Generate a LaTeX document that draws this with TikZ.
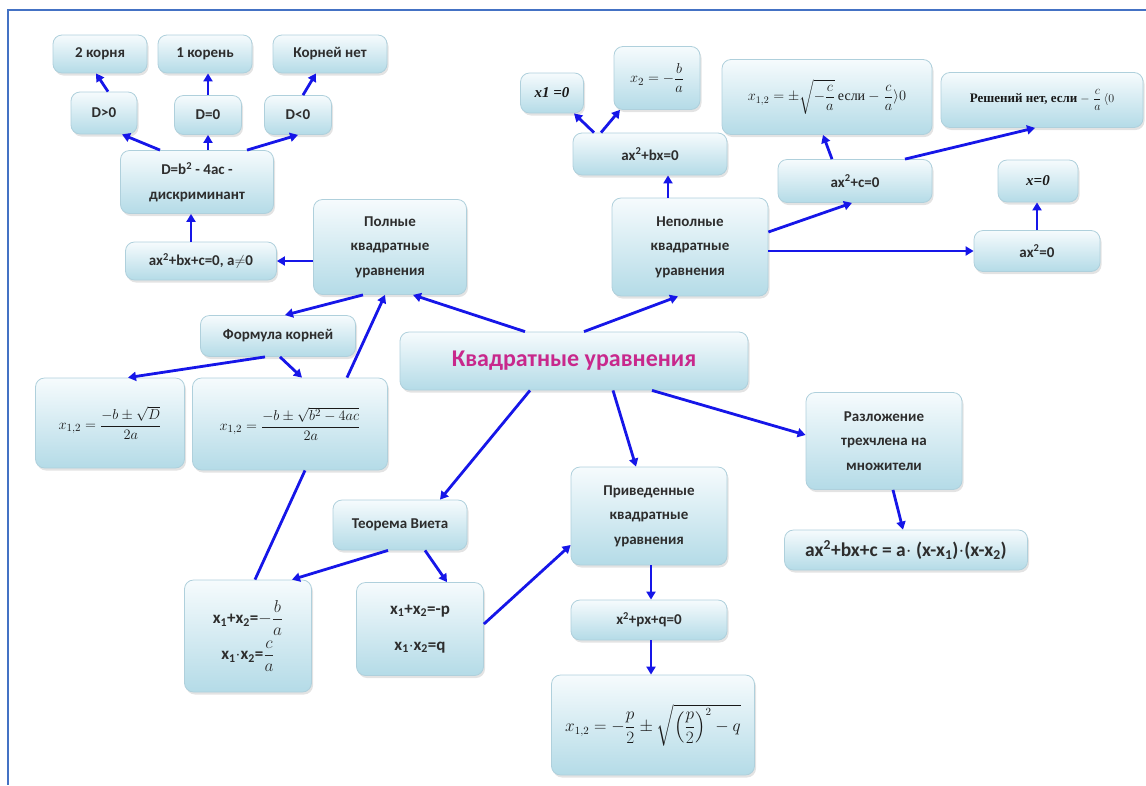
\documentclass[tikz,border=0pt]{standalone}
\usepackage{amsmath}
\usepackage{fontspec}
\setmainfont{Carlito}
\newfontfamily\tnr{Liberation Serif}
\usetikzlibrary{shadows,arrows.meta,calc}
\definecolor{boxblue}{RGB}{180,219,231}
\definecolor{boxtop}{RGB}{246,251,253}
\definecolor{boxline}{RGB}{175,208,220}
\definecolor{arr}{RGB}{22,22,232}
\definecolor{framec}{RGB}{68,114,196}
\definecolor{txt}{RGB}{45,45,45}
\definecolor{mtxt}{RGB}{25,25,25}
\definecolor{titlec}{RGB}{200,40,140}
\tikzset{
 box/.style={rounded corners=9pt, draw=boxline, line width=0.8pt, top color=boxtop, bottom color=boxblue,
   drop shadow={opacity=0.22, shadow xshift=1.5pt, shadow yshift=-2.5pt},
   text=txt, align=center, inner sep=2pt, font=\bfseries\fontsize{15}{24.5}\selectfont},
 mbox/.style={box, text=mtxt, font=\fontsize{15}{20}\selectfont},
 con/.style={draw=arr, line width=2.8pt, -{Triangle[length=8pt,width=9pt]}},
 plainline/.style={draw=arr, line width=2.8pt},
}
\begin{document}
\begin{tikzpicture}[x=1pt,y=-1pt]
\useasboundingbox (0,0) rectangle (1146,785);
\draw[framec, line width=1.5pt] (1146,10) -- (8,10) -- (8,785);

% discriminant branch
\node[box, minimum width=94pt, minimum height=38pt] (n2k) at (100,54) {2 корня};
\node[box, minimum width=94pt, minimum height=38pt] (n1k) at (205,54) {1 корень};
\node[box, minimum width=114pt, minimum height=38pt] (nnet) at (330,54) {Корней нет};
\node[box, minimum width=66pt, minimum height=42pt] (dpos) at (104,113) {D>0};
\node[box, minimum width=67pt, minimum height=39pt] (dzero) at (208,115) {D=0};
\node[box, minimum width=67pt, minimum height=39pt] (dneg) at (298,115) {D<0};
\node[box, minimum width=153pt, minimum height=63pt] (disc) at (197,182) {D=b$^{\mathbf 2}$ - 4ac -\\дискриминант};
\node[box, minimum width=151pt, minimum height=38pt] (gen) at (201,261) {ax$^{\mathbf 2}$+bx+c=0, a$\neq$0};
\node[box, minimum width=153pt, minimum height=95pt] (full) at (390,247) {Полные\\квадратные\\уравнения};
\node[box, minimum width=155pt, minimum height=41pt] (formula) at (278,336) {Формула корней};
\node[mbox, minimum width=149pt, minimum height=90pt] (x12d) at (110,423) {$x_{1,2}=\dfrac{-b\pm\sqrt{D}}{2a}$};
\node[mbox, minimum width=195pt, minimum height=92pt] (x12f) at (290,424) {$x_{1,2}=\dfrac{-b\pm\sqrt{b^2-4ac}}{2a}$};

% main
\node[box, minimum width=348pt, minimum height=58pt, text=titlec, font=\bfseries\fontsize{24}{28}\selectfont] (main) at (574,361) {Квадратные уравнения};

% incomplete branch
\node[box, minimum width=156pt, minimum height=98pt] (inc) at (690,247) {Неполные\\квадратные\\уравнения};
\node[box, minimum width=63pt, minimum height=40pt, text=mtxt, font=\tnr\bfseries\itshape\fontsize{15}{18}\selectfont] (x1z) at (552,93) {x1 =0};
\node[mbox, minimum width=86pt, minimum height=63pt] (x2) at (657,78) {$x_2=-\dfrac{b}{a}$};
\node[box, minimum width=154pt, minimum height=42pt] (bx) at (650,154) {ax$^{\mathbf 2}$+bx=0};
\node[mbox, minimum width=210pt, minimum height=75pt, font=\fontsize{14}{18}\selectfont] (cpos) at (827,97) {$x_{1,2}=\pm\sqrt{-\dfrac{c}{a}}$ {\tnr если} $-\;\dfrac{c}{a}\rangle 0$};
\node[mbox, minimum width=202pt, minimum height=55pt, font=\fontsize{13}{16}\selectfont] (cneg) at (1042,100) {{\tnr\bfseries Решений нет, если} $-\;\dfrac{c}{a}\,\langle 0$};
\node[box, minimum width=154pt, minimum height=43pt] (cx) at (855,181) {ax$^{\mathbf 2}$+c=0};
\node[box, minimum width=80pt, minimum height=42pt, text=mtxt, font=\tnr\bfseries\itshape\fontsize{15}{18}\selectfont] (xz) at (1038,181) {x=0};
\node[box, minimum width=126pt, minimum height=41pt] (ax2) at (1037,251) {ax$^{\mathbf 2}$=0};

% factorisation
\node[box, minimum width=156pt, minimum height=97pt] (razl) at (884,441) {Разложение\\трехчлена на\\множители};
\node[box, minimum width=243pt, minimum height=40pt, font=\bfseries\fontsize{19.5}{22}\selectfont] (fact) at (906,550) {ax$^{\mathbf 2}$+bx+c = a$\cdot$ (x-x$_{\mathbf 1}$)$\cdot$(x-x$_{\mathbf 2}$)};

% reduced
\node[box, minimum width=156pt, minimum height=98pt] (priv) at (649,516) {Приведенные\\квадратные\\уравнения};
\node[box, minimum width=156pt, minimum height=40pt] (pq) at (649,620) {x$^{\mathbf 2}$+px+q=0};
\node[mbox, minimum width=203pt, minimum height=100pt, font=\fontsize{16}{20}\selectfont] (pqf) at (653,725) {$x_{1,2}=-\dfrac{p}{2}\pm\sqrt{\left(\dfrac{p}{2}\right)^{2}-q}$};

% Vieta
\node[box, minimum width=134pt, minimum height=50pt] (viet) at (400,525) {Теорема Виета};
\node[box, minimum width=127pt, minimum height=112pt, font=\bfseries\fontsize{17}{22}\selectfont] (vl) at (248,636) {x$_{\mathbf 1}$+x$_{\mathbf 2}$=$-\dfrac{b}{a}$\\[4pt]x$_{\mathbf 1}$$\cdot$x$_{\mathbf 2}$=$\dfrac{c}{a}$};
\node[box, minimum width=127pt, minimum height=93pt, font=\bfseries\fontsize{17}{36}\selectfont] (vr) at (420,629) {x$_{\mathbf 1}$+x$_{\mathbf 2}$=-p\\x$_{\mathbf 1}$$\cdot$x$_{\mathbf 2}$=q};

% connectors
\draw[con] ([xshift=4pt]dpos.north) -- ([xshift=-4pt]n2k.south);
\draw[con] (dzero.north) -- (dzero.north |- n1k.south);
\draw[con] ([xshift=5pt]dneg.north) -- ([xshift=-14pt]nnet.south);
\draw[con] ([xshift=-37pt]disc.north) -- ([xshift=18pt]dpos.south);
\draw[con] (disc.north -| dzero.south) -- (dzero.south);
\draw[con] ([xshift=50pt]disc.north) -- (dneg.south);
\draw[con] ([xshift=-10pt]gen.north) -- ([xshift=-10pt]gen.north |- disc.south);
\draw[con] (full.west |- gen.east) -- (gen.east);
\draw[con] ([xshift=-27pt]full.south) -- ([xshift=7pt]formula.north);
\draw[con] ([xshift=-13pt]formula.south) -- ([xshift=18pt]x12d.north);
\draw[con] ([xshift=2pt]formula.south) -- ([xshift=12pt]x12f.north);
\draw[con] ([xshift=57pt]x12f.north) -- ([xshift=-5pt]full.south);
\draw[con] ([xshift=-49pt]main.north) -- ([xshift=23pt]full.south);
\draw[con] ([xshift=10pt]main.north) -- ([xshift=-12pt]inc.south);
\draw[con] ([xshift=-22pt]inc.north) -- ([xshift=-22pt]inc.north |- bx.south);
\draw[con] ([xshift=-56pt]bx.north) -- ([xshift=22pt]x1z.south);
\draw[con] ([xshift=-49pt]bx.north) -- ([xshift=-37pt]x2.south);
\draw[con] ([yshift=15pt]inc.east) -- ([xshift=-3pt]cx.south);
\draw[con] ([xshift=-23pt]cx.north) -- ([xshift=-4pt]cpos.south);
\draw[con] ([xshift=50pt]cx.north) -- ([xshift=-7pt]cneg.south);
\draw[con] (inc.east |- ax2.west) -- (ax2.west);
\draw[con] (ax2.north) -- (ax2.north |- xz.south);
\draw[con] ([xshift=78pt]main.south) -- ([yshift=6pt]razl.west);
\draw[con] ([xshift=9pt]razl.south) -- ([xshift=-3pt]fact.north);
\draw[con] ([xshift=39pt]main.south) -- ([xshift=-13pt]priv.north);
\draw[con] ([xshift=-44pt]main.south) -- ([xshift=40pt]viet.north);
\draw[con] ([xshift=2pt]priv.south) -- ([xshift=2pt]pq.north);
\draw[con] ([xshift=2pt]pq.south) -- ([xshift=2pt]pq.south |- pqf.north);
\draw[con] ([xshift=-12pt]viet.south) -- ([xshift=44pt]vl.north);
\draw[con] ([xshift=25pt]viet.south) -- ([xshift=27pt]vr.north);
\draw[con] ([yshift=5pt]vr.east) -- ([yshift=-29pt]priv.west);
\draw[plainline] ([xshift=7pt]vl.north) -- ([xshift=15pt]x12f.south);
\end{tikzpicture}
\end{document}
